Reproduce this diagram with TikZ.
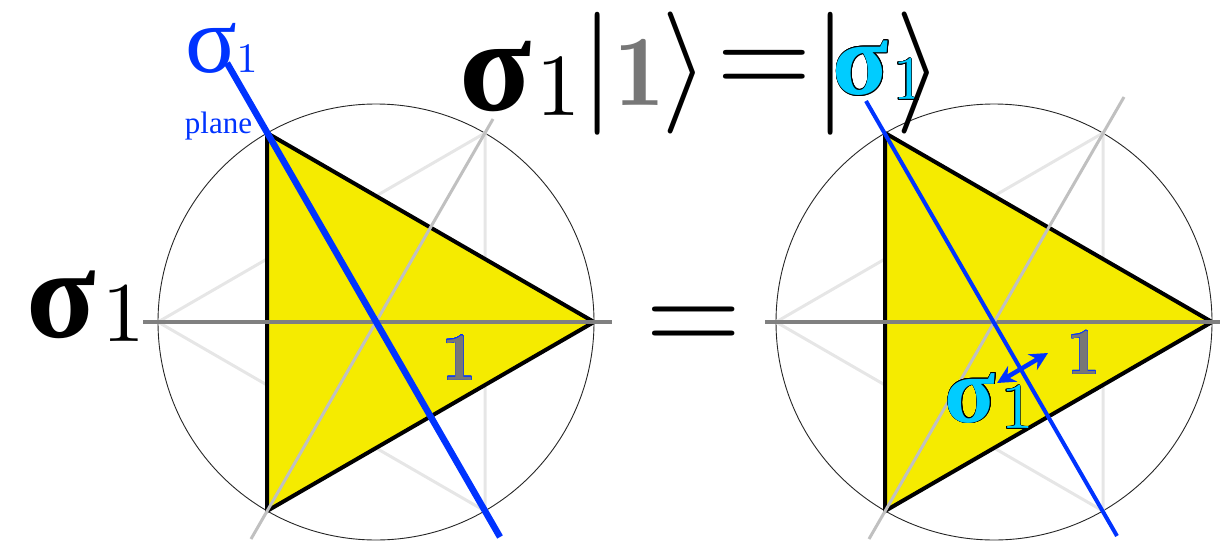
\documentclass[tikz,border=0pt]{standalone}
\usepackage{fontspec}
\newfontfamily\grk{Liberation Serif}
\usepackage[copies]{contour}
\usetikzlibrary{arrows.meta}
\definecolor{triyellow}{RGB}{245,235,0}
\definecolor{pblue}{RGB}{0,51,255}
\definecolor{cyanc}{RGB}{0,204,255}
\definecolor{axdark}{RGB}{128,128,128}
\definecolor{axmid}{RGB}{192,192,192}
\definecolor{axlight}{RGB}{230,230,230}
\definecolor{onegray}{RGB}{119,119,119}
\contourlength{0.07pt}
\begin{document}
\begin{tikzpicture}[x=1pt,y=-1pt,
  txt/.style={inner sep=0pt,outer sep=0pt},
  circ/.style={draw=black!85,line width=0.9pt},
  lightline/.style={draw=axlight,line width=3pt,line join=round},
  tribox/.style={fill=triyellow,draw=black,line width=4pt,line join=miter},
  axh/.style={draw=axdark,line width=3.2pt},
  axm/.style={draw=axmid,line width=3pt},
  bluethick/.style={draw=pblue,line width=6.5pt},
  bluethin/.style={draw=pblue,line width=4pt},
  blk/.style={txt,text=black},
  graybold/.style={txt,text=onegray}
]
\useasboundingbox (0,0) rectangle (1220,543);

% ---------------- left figure ----------------
\begin{scope}[shift={(376,322)}]
  \coordinate (LO) at (0,0);
  \coordinate (LA) at (218,0);
  \coordinate (LB) at (-109,-189);
  \coordinate (LC) at (-109,189);
  \coordinate (LD) at (-218,0);
  \coordinate (LE) at (109,-189);
  \coordinate (LF) at (109,189);
  \coordinate (LH1) at (-233,0);
  \coordinate (LH2) at (236,0);
  \coordinate (LM1) at (-125,217);
  \coordinate (LM2) at (117,-203);
  \coordinate (LP1) at (-149,-259);
  \coordinate (LP2) at (124,215);
  \draw[circ] (LO) circle[radius=218];
  \draw[lightline] (LD) -- (LE) -- (LF) -- cycle;
  \filldraw[tribox] (LA) -- (LB) -- (LC) -- cycle;
  \draw[axh] (LH1) -- (LH2);
  \draw[axm] (LM1) -- (LM2);
  \draw[bluethick] (LP1) -- (LP2);
\end{scope}

% ---------------- right figure ----------------
\begin{scope}[shift={(994,322)}]
  \coordinate (RO) at (0,0);
  \coordinate (RA) at (218,0);
  \coordinate (RB) at (-109,-189);
  \coordinate (RC) at (-109,189);
  \coordinate (RD) at (-218,0);
  \coordinate (RE) at (109,-189);
  \coordinate (RF) at (109,189);
  \coordinate (RH1) at (-229,0);
  \coordinate (RH2) at (226,0);
  \coordinate (RM1) at (-125,217);
  \coordinate (RM2) at (130,-225);
  \coordinate (RP1) at (-128,-221);
  \coordinate (RP2) at (123,214);
  \draw[circ] (RO) circle[radius=218];
  \draw[lightline] (RD) -- (RE) -- (RF) -- cycle;
  \filldraw[tribox] (RA) -- (RB) -- (RC) -- cycle;
  \draw[axh] (RH1) -- (RH2);
  \draw[axm] (RM1) -- (RM2);
  \draw[bluethin] (RP1) -- (RP2);
\end{scope}

% arrow in right figure
\coordinate (ar1) at (997,383);
\coordinate (ar2) at (1048,353);
\draw[draw=pblue,fill=pblue,line width=4.5pt,{Stealth[length=18pt,width=18pt]}-{Stealth[length=18pt,width=18pt]}] (ar1) -- (ar2);

% ---------------- labels ----------------
% left figure
\node[txt,text=pblue,scale=9.6] (bsig) at (211,48.5) {\grk σ};
\node[txt,text=pblue,scale=4.2] (bone) at (247,58.5) {$1$};
\node[txt,text=pblue,font=\grk\fontsize{31}{31}\selectfont] (plane) at (218.5,126.5) {plane};
\node[graybold,scale=6.8] (lone) at (459.5,358) {\contour{pblue}{$\mathbf{1}$}};
\node[blk,scale=12.8] (lsig) at (61.5,304.5) {\grk\bfseries σ};
\node[blk,scale=8.5] (lsub) at (124,314.5) {$1$};

% middle equals
\node[blk,scale=12.4] (meq) at (693.5,329.5) {$=$};

% top formula
\node[blk,scale=13.3] (tsig) at (496,77) {\grk\bfseries σ};
\node[blk,scale=8.85] (tsub) at (559,86.5) {$1$};
\node[blk,scale=12.3] (bar1) at (598,73.5) {$\vert$};
\node[graybold,scale=10.1] (tone) at (640,72.5) {$\mathbf{1}$};
\node[blk,scale=12.2] (ang1) at (685.5,72.5) {$\rangle$};
\node[blk,scale=12.3] (teq) at (764,72.5) {$=$};
\node[blk,scale=12.3] (bar2) at (831,73.5) {$\vert$};
\node[txt,text=cyanc,scale=10.3] (csig) at (861,68.5) {\contour{black}{\grk\bfseries σ}};
\node[txt,text=cyanc,scale=6.2] (cone) at (908.5,80) {\contour{black}{$1$}};
\node[blk,scale=12.2] (ang2) at (919.5,72.5) {$\rangle$};

% right figure
\node[graybold,scale=6.6] (rone) at (1084,353) {\contour{pblue}{$\mathbf{1}$}};
\node[txt,text=cyanc,scale=9.4] (rsig) at (970.5,398.5) {\contour{black}{\grk\bfseries σ}};
\node[txt,text=cyanc,scale=6.5] (rsub) at (1017.5,408) {\contour{black}{$1$}};
\end{tikzpicture}
\end{document}
